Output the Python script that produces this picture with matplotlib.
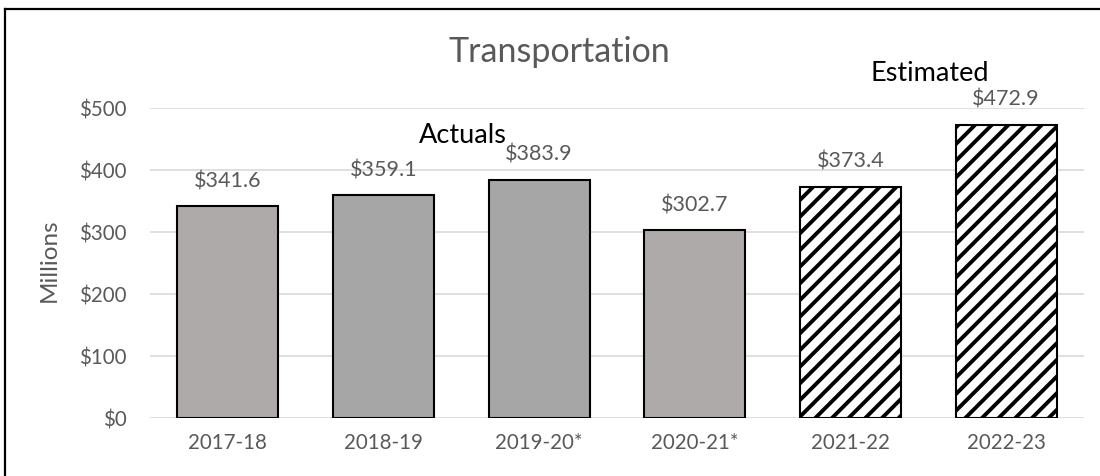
import matplotlib
matplotlib.use("Agg")
import matplotlib.pyplot as plt
from matplotlib.lines import Line2D

categories = ["2017-18", "2018-19", "2019-20*", "2020-21*", "2021-22", "2022-23"]
values = [341.6, 359.1, 383.9, 302.7, 373.4, 472.9]
labels = ["$341.6", "$359.1", "$383.9", "$302.7", "$373.4", "$472.9"]
estimated = [False, False, False, False, True, True]
face_colors = ["#aeaaaa", "#a6a6a6", "#a6a6a6", "#aeaaaa", "white", "white"]
yticks = [0, 100, 200, 300, 400, 500]
ytick_labels = ["$0", "$100", "$200", "$300", "$400", "$500"]

plt.rcParams['font.family'] = ['Lato', 'DejaVu Sans']
plt.rcParams['hatch.linewidth'] = 2.8
plt.rcParams['hatch.color'] = 'black'

fig = plt.figure(figsize=(11, 4.76), dpi=100)
ax = fig.add_axes([0.1364, 0.1218, 0.8491, 0.6513])

x = list(range(len(categories)))
for i, (v, fc, est) in enumerate(zip(values, face_colors, estimated)):
    ax.bar(i, v, width=0.65, color=fc, edgecolor='black', linewidth=1.5,
           hatch='//' if est else None, zorder=3)
    ax.annotate(labels[i], (i, v), xytext=(0, 18), textcoords='offset points',
                ha='center', va='center', fontsize=15.5, color='#595959', zorder=5)

ax.set_xlim(-0.5, len(categories) - 0.5)
ax.set_ylim(0, 500)
ax.set_yticks(yticks)
ax.set_yticklabels(ytick_labels)
ax.set_xticks(x)
ax.set_xticklabels(categories)
ax.tick_params(axis='both', length=0, labelsize=14.8, labelcolor='#595959')
ax.tick_params(axis='y', pad=17)
ax.tick_params(axis='x', pad=11)
ax.grid(axis='y', color='#d9d9d9', linewidth=1.2, zorder=0)
ax.set_axisbelow(True)
for s in ax.spines.values():
    s.set_visible(False)

ax.set_ylabel("Millions", fontsize=17.5, color='#595959')
ax.yaxis.set_label_coords(-0.0963, 0.51)

ax.text(1.51, 456, "Actuals", ha='center', va='center', fontsize=19.5, color='black', zorder=6)
ax.text(4.51, 555, "Estimated", ha='center', va='center', fontsize=19.5, color='black', zorder=6)

fig.text(559 / 1100, 1 - 52 / 476, "Transportation", ha='center', va='center',
         fontsize=24.5, color='#595959')

# outer frame (left and top edges visible)
fig.add_artist(Line2D([5 / 1100, 5 / 1100], [0, 1 - 9 / 476], color='black', linewidth=1.6,
                      transform=fig.transFigure))
fig.add_artist(Line2D([5 / 1100, 1], [1 - 9 / 476, 1 - 9 / 476], color='black', linewidth=1.6,
                      transform=fig.transFigure))

fig.savefig("out.png", dpi=100)
